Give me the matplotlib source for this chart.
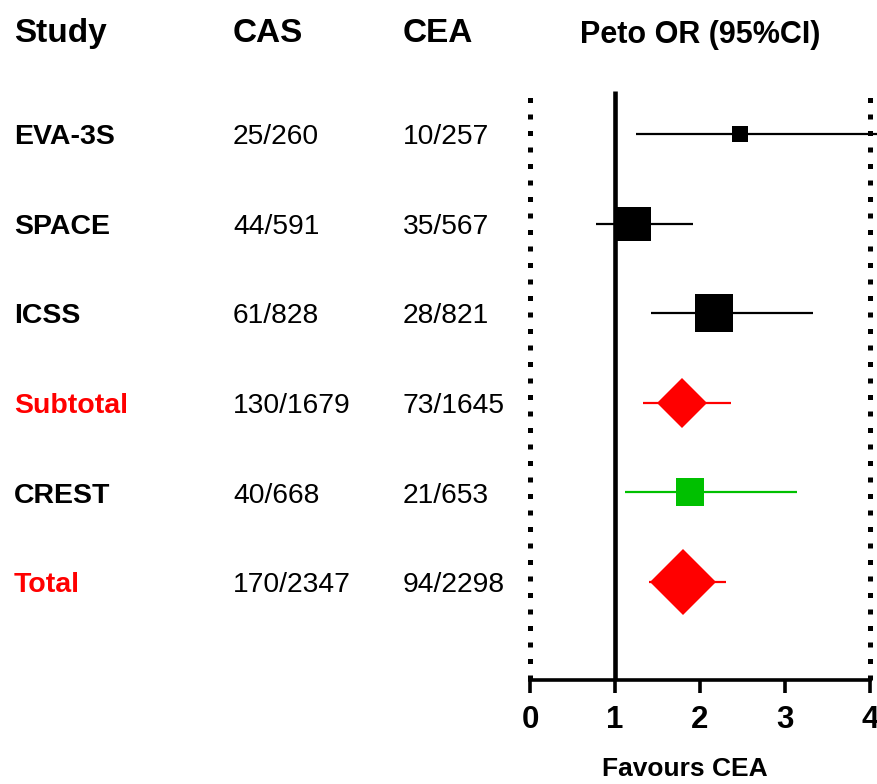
import matplotlib
matplotlib.use("Agg")
import matplotlib.pyplot as plt
from matplotlib import font_manager
from matplotlib.transforms import blended_transform_factory, offset_copy

plt.rcParams['font.family'] = ['Liberation Sans', 'DejaVu Sans']

studies = ["EVA-3S", "SPACE", "ICSS", "Subtotal", "CREST", "Total"]
cas = ["25/260", "44/591", "61/828", "130/1679", "40/668", "170/2347"]
cea = ["10/257", "35/567", "28/821", "73/1645", "21/653", "94/2298"]
or_est = [2.47, 1.22, 2.16, 1.79, 1.88, 1.80]
ci_low = [1.25, 0.78, 1.42, 1.33, 1.12, 1.40]
ci_high = [5.0, 1.92, 3.33, 2.36, 3.14, 2.31]
kinds = ["square", "square", "square", "diamond", "square", "diamond"]
colors = ["black", "black", "black", "#ff0000", "#00c000", "#ff0000"]
label_colors = ["black", "black", "black", "#ff0000", "black", "#ff0000"]
marker_sizes = [11.5, 24, 27.5, 25.5, 19.5, 33.5]
xticks = [0, 1, 2, 3, 4]

names = {f.name for f in font_manager.fontManager.ttflist}
narrow = "Liberation Sans Narrow" in names

W, H = 877, 784
fig = plt.figure(figsize=(W / 100, H / 100), dpi=100)
ax = fig.add_axes([530 / W, (H - 680) / H, 340 / W, (680 - 91) / H])

row0, step = 134, 89.6
ytop = (91 - row0) / step
ybot = (680 - row0) / step
ax.set_xlim(0, 4)
ax.set_ylim(ybot, ytop)

for s in ["top", "left", "right"]:
    ax.spines[s].set_visible(False)
ax.spines["bottom"].set_linewidth(2.6)
ax.spines["bottom"].set_capstyle("projecting")
ax.set_yticks([])
ax.set_xticks(xticks)
ax.set_xticklabels([str(t) for t in xticks], fontsize=22.5, fontweight="bold")
ax.tick_params(axis="x", direction="out", length=9, width=2.6, pad=9)
if narrow:
    ax.set_xlabel("Favours CEA", fontsize=22, fontweight="bold",
                  family=["Liberation Sans Narrow", "Liberation Sans"],
                  va="baseline")
else:
    ax.set_xlabel("Favours CEA", fontsize=19, fontweight="bold",
                  va="baseline")
ax.xaxis.set_label_coords((685 - 530) / 340, (680 - 776) / (680 - 91))

# reference lines
ax.plot([1, 1], [ybot, ytop], color="black", lw=3.3, clip_on=False,
        solid_capstyle="butt")
for xv in (0, 4):
    ax.plot([xv, xv], [ybot, ytop], color="black", lw=3.6,
            linestyle=(0, (1, 2.3)), clip_on=False)

for i in range(len(studies)):
    c = colors[i]
    ax.plot([ci_low[i], ci_high[i]], [i, i], color=c, lw=1.6, clip_on=False,
            solid_capstyle="butt")
    m = "s" if kinds[i] == "square" else "D"
    ax.plot([or_est[i]], [i], marker=m, markersize=marker_sizes[i],
            color=c, markeredgewidth=0, linestyle="none", clip_on=False)

# text columns
tr = blended_transform_factory(fig.transFigure, ax.transData)
tr_text = offset_copy(tr, fig=fig, y=-7.4, units="points")
for i in range(len(studies)):
    ax.text(14 / W, i, studies[i], transform=tr_text, fontsize=20.5,
            fontweight="bold", color=label_colors[i], va="baseline", ha="left")
    ax.text(233 / W, i, cas[i], transform=tr_text, fontsize=20.3,
            color="black", va="baseline", ha="left")
    ax.text(403 / W, i, cea[i], transform=tr_text, fontsize=20.3,
            color="black", va="baseline", ha="left")

hy = 1 - 42 / H
fig.text(14 / W, hy, "Study", fontsize=24, fontweight="bold", va="baseline")
fig.text(233 / W, hy, "CAS", fontsize=24, fontweight="bold", va="baseline")
fig.text(403 / W, hy, "CEA", fontsize=24, fontweight="bold", va="baseline")
fig.text(700 / W, 1 - 43 / H, "Peto OR (95%CI)", fontsize=22,
         fontweight="bold", va="baseline", ha="center")

fig.savefig("out.png", dpi=100)
